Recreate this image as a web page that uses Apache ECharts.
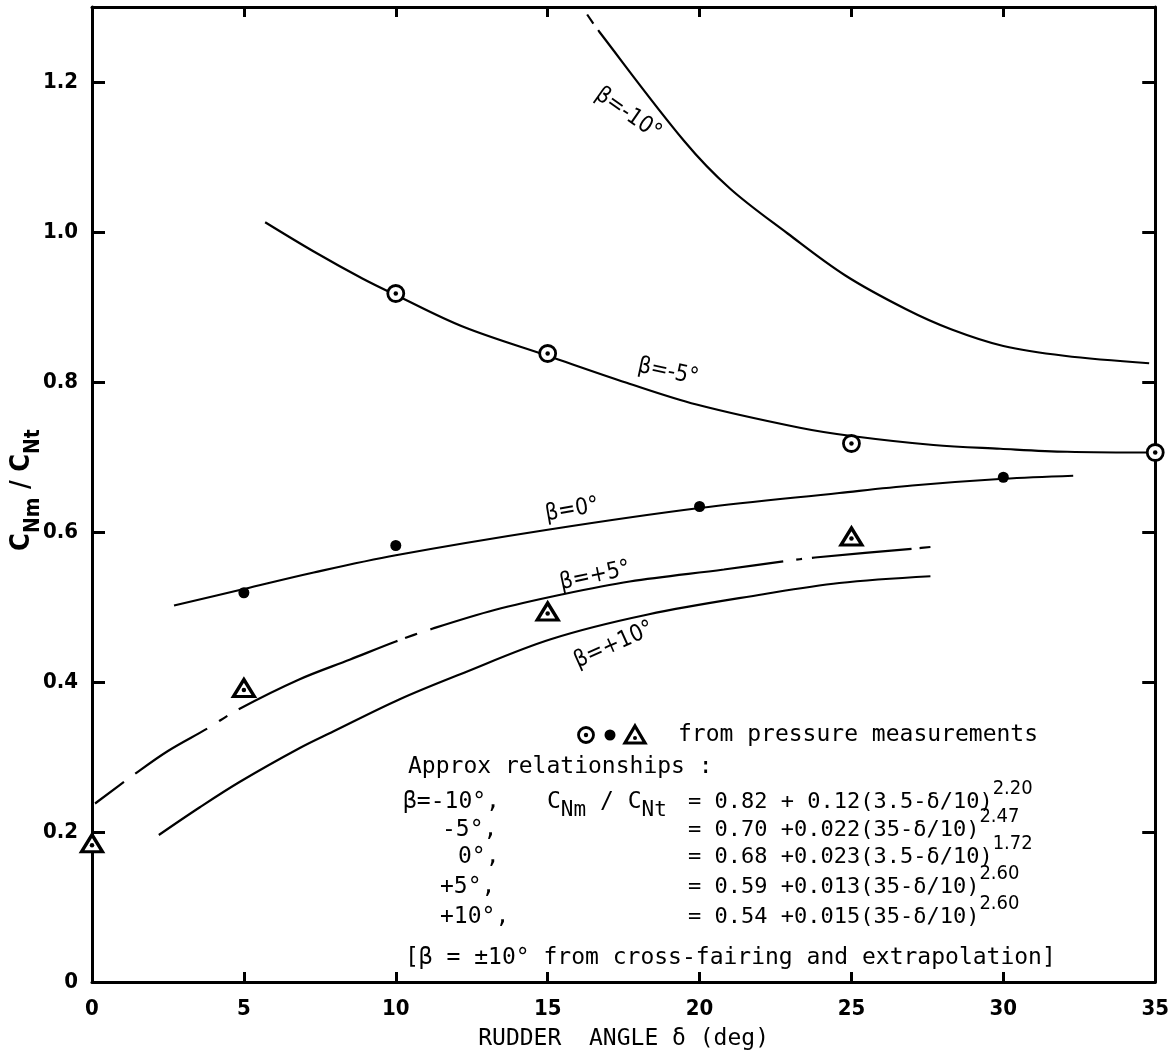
<!DOCTYPE html>
<html>
<head>
<meta charset="utf-8">
<script src="https://cdn.jsdelivr.net/npm/echarts@6/dist/echarts.min.js"></script>
<style>
html,body{margin:0;padding:0;background:#fff;}
#chart{width:1172px;height:1059px;}
</style>
</head>
<body>
<div id="chart"></div>
<script>
// ---- data ----
const xTickLabels = ['0','5','10','15','20','25','30','35'];
const yTickLabels = ['0','0.2','0.4','0.6','0.8','1.0','1.2'];

// beta = -10 deg (faired curve)
const deltaM10 = [16.3, 16.7, 19.5, 21.0, 22.9, 24.8, 26.8, 28.3, 30.0, 32.0, 34.8];
const cnM10    = [1.290, 1.267, 1.121, 1.058, 0.998, 0.942, 0.897, 0.870, 0.848, 0.835, 0.825];
// beta = -5 deg
const deltaM5 = [5.7, 7.3, 8.9, 10.0, 12.2, 15.0, 17.6, 19.9, 23.3, 25.0, 27.7, 29.9, 32.1, 35.0];
const cnM5    = [1.013, 0.974, 0.938, 0.916, 0.874, 0.835, 0.799, 0.770, 0.739, 0.728, 0.716, 0.711, 0.707, 0.706];
// beta = 0 deg
const delta0 = [2.7, 5.0, 7.3, 10.0, 15.0, 20.0, 24.6, 27.0, 30.0, 32.3];
const cn0    = [0.502, 0.524, 0.546, 0.569, 0.603, 0.632, 0.652, 0.662, 0.671, 0.675];
// beta = +5 deg
const deltaP5 = [0.1, 1.4, 2.5, 3.8, 4.8, 6.8, 8.5, 10.0, 11.2, 13.25, 15.5, 17.7, 20.8, 22.8, 23.8, 27.1, 27.6];
const cnP5    = [0.238, 0.277, 0.308, 0.338, 0.363, 0.403, 0.430, 0.454, 0.471, 0.496, 0.517, 0.534, 0.550, 0.561, 0.566, 0.578, 0.580];
// beta = +10 deg
const deltaP10 = [2.2, 3.55, 4.87, 6.84, 7.94, 10.13, 12.1, 15.1, 18.3, 22.1, 24.6, 27.6];
const cnP10    = [0.196, 0.233, 0.267, 0.312, 0.334, 0.377, 0.410, 0.457, 0.490, 0.517, 0.532, 0.541];

// measured points (pressure measurements)
const deltaCirc = [10, 15, 25, 35];          // circle with dot
const cnCirc    = [0.918, 0.838, 0.718, 0.706];
const deltaDot  = [5, 10, 20, 30];           // filled dot
const cnDot     = [0.519, 0.582, 0.634, 0.673];
const deltaTri  = [0, 5, 15, 25];            // triangle
const cnTri     = [0.185, 0.392, 0.494, 0.594];

// ---- build ----
const pairs = (xs, ys) => xs.map((x, i) => [x, ys[i]]);
const MONO = '"DejaVu Sans Mono", monospace';
const SANS = '"DejaVu Sans Condensed", "DejaVu Sans", sans-serif';

const chart = echarts.init(document.getElementById('chart'), null, {renderer: 'canvas'});

const curve = (name, xs, ys, dash) => ({
  name, type: 'line', xAxisIndex: 0, yAxisIndex: 0,
  data: pairs(xs, ys), smooth: 0.35, showSymbol: false, symbol: 'none',
  lineStyle: {color: '#000', width: 2.2, type: dash || 'solid', opacity: 1},
  silent: true, z: 2
});

const axisCommon = {
  axisLine: {show: true, onZero: false, lineStyle: {color: '#000', width: 3}},
  splitLine: {show: false},
};

const yFmt = v => {
  const i = Math.round(v / 0.2);
  return Math.abs(v - i * 0.2) < 1e-6 ? (yTickLabels[i] || '') : '';
};
const xFmt = v => {
  const i = Math.round(v / 5);
  return Math.abs(v - i * 5) < 1e-6 ? (xTickLabels[i] || '') : '';
};

const option = {
  animation: false,
  backgroundColor: '#fff',
  grid: {left: 92, right: 15, top: 7, bottom: 77, containLabel: false},
  xAxis: [
    Object.assign({
      type: 'value', min: 0, max: 35, interval: 5, position: 'bottom',
      name: 'RUDDER  ANGLE δ (deg)', nameLocation: 'middle', nameGap: 46,
      nameTextStyle: {fontFamily: MONO, fontSize: 23, color: '#000'},
      axisTick: {show: true, inside: true, length: 10, lineStyle: {color: '#000', width: 3}},
      axisLabel: {show: true, margin: 16, fontFamily: SANS, fontSize: 22, fontWeight: 'bold', color: '#000', formatter: xFmt}
    }, axisCommon),
    Object.assign({
      type: 'value', min: 0, max: 35, interval: 5, position: 'top',
      axisTick: {show: true, inside: true, length: 10, lineStyle: {color: '#000', width: 3}},
      axisLabel: {show: false}
    }, axisCommon)
  ],
  yAxis: [
    Object.assign({
      type: 'value', min: 0, max: 1.3, interval: 0.2, position: 'left',
      axisTick: {show: true, inside: true, length: 13, lineStyle: {color: '#000', width: 3}},
      axisLabel: {show: true, margin: 14, fontFamily: SANS, fontSize: 22, fontWeight: 'bold', color: '#000', formatter: yFmt, showMaxLabel: false}
    }, axisCommon),
    Object.assign({
      type: 'value', min: 0, max: 1.3, interval: 0.2, position: 'right',
      axisTick: {show: true, inside: true, length: 13, lineStyle: {color: '#000', width: 3}},
      axisLabel: {show: false}
    }, axisCommon)
  ],
  series: [
    curve('β=-10°', deltaM10, cnM10, [11, 8, 3000]),
    curve('β=-5°', deltaM5, cnM5),
    curve('β=0°', delta0, cn0),
    curve('β=+5°', deltaP5, cnP5, [36, 14, 85, 14, 10, 13, 173, 8, 13, 14, 360, 13, 6, 10, 100, 8, 12, 60]),
    curve('β=+10°', deltaP10, cnP10),
    {
      name: 'circles', type: 'scatter', data: pairs(deltaCirc, cnCirc), clip: false,
      symbol: 'circle', symbolSize: 16,
      itemStyle: {color: '#fff', borderColor: '#000', borderWidth: 2.8, opacity: 1}, z: 5, silent: true
    },
    {
      name: 'circle dots', type: 'scatter', data: pairs(deltaCirc, cnCirc), clip: false,
      symbol: 'circle', symbolSize: 4.5, itemStyle: {color: '#000', opacity: 1}, z: 6, silent: true
    },
    {
      name: 'dots', type: 'scatter', data: pairs(deltaDot, cnDot), clip: false,
      symbol: 'circle', symbolSize: 11, itemStyle: {color: '#000', opacity: 1}, z: 5, silent: true
    },
    {
      name: 'triangles', type: 'scatter', data: pairs(deltaTri, cnTri), clip: false,
      symbol: 'triangle', symbolSize: [21, 17],
      itemStyle: {color: '#fff', borderColor: '#000', borderWidth: 3.2, opacity: 1}, z: 5, silent: true
    },
    {
      name: 'triangle dots', type: 'scatter', data: pairs(deltaTri, cnTri), clip: false,
      symbol: 'circle', symbolSize: 4.5, symbolOffset: [0, 2], itemStyle: {color: '#000', opacity: 1}, z: 6, silent: true
    }
  ],
  graphic: []
};

// ---- text annotations ----
const g = option.graphic;
const txt = (x, y, text) => g.push({
  type: 'text', x, y, silent: true, z: 20,
  style: {text, fontFamily: MONO, fontSize: 23, fill: '#000', align: 'left', verticalAlign: 'middle'}
});

// y axis title C_Nm / C_Nt
g.push({
  type: 'text', x: 26, y: 490, rotation: Math.PI / 2, silent: true, z: 20,
  style: {
    text: '{c|C}{s|Nm}{c| / C}{s|Nt}',
    align: 'center', verticalAlign: 'middle', fill: '#000',
    rich: {
      c: {fontFamily: SANS, fontSize: 27, fontWeight: 'bold', lineHeight: 36, verticalAlign: 'top', fill: '#000'},
      s: {fontFamily: SANS, fontSize: 21, fontWeight: 'bold', lineHeight: 36, verticalAlign: 'bottom', fill: '#000'}
    }
  }
});

// curve labels
const lab = (x, y, text, deg) => g.push({
  type: 'text', x, y, rotation: deg * Math.PI / 180, silent: true, z: 20,
  style: {text, fontFamily: SANS, fontSize: 23, fill: '#000', align: 'center', verticalAlign: 'middle'}
});
lab(628, 114, 'β=-10°', -35);
lab(668, 372, 'β=-5°', -12);
lab(572, 510, 'β=0°', 10);
lab(595, 576, 'β=+5°', 12);
lab(614, 645, 'β=+10°', 24);

// legend glyphs
g.push({type: 'circle', shape: {cx: 586, cy: 735, r: 7.5}, style: {fill: '#fff', stroke: '#000', lineWidth: 2.8}, z: 20, silent: true});
g.push({type: 'circle', shape: {cx: 586, cy: 735, r: 2.2}, style: {fill: '#000'}, z: 21, silent: true});
g.push({type: 'circle', shape: {cx: 610, cy: 735, r: 5.5}, style: {fill: '#000'}, z: 20, silent: true});
g.push({type: 'polygon', shape: {points: [[635, 726], [645, 743], [625, 743]]}, style: {fill: '#fff', stroke: '#000', lineWidth: 3.2}, z: 20, silent: true});
g.push({type: 'circle', shape: {cx: 635, cy: 738, r: 2}, style: {fill: '#000'}, z: 21, silent: true});

txt(678, 735, 'from pressure measurements');
txt(408, 767, 'Approx relationships :');

const eqRich = {
  t: {fontFamily: MONO, fontSize: 22, lineHeight: 34, verticalAlign: 'bottom', fill: '#000'},
  p: {fontFamily: SANS, fontSize: 20, lineHeight: 34, verticalAlign: 'top', fill: '#000'}
};
const eq = (y, left, leftX, body, pow) => {
  txt(leftX, y, left);
  g.push({
    type: 'text', x: 688, y: y - 6, silent: true, z: 20,
    style: {text: '{t|' + body + '}{p|' + pow + '}', align: 'left', verticalAlign: 'middle', rich: eqRich}
  });
};
eq(802, 'β=-10°,', 403, '= 0.82 + 0.12(3.5-δ/10)', '2.20');
eq(830, '-5°,', 442, '= 0.70 +0.022(35-δ/10)', '2.47');
eq(857, '0°,', 458, '= 0.68 +0.023(3.5-δ/10)', '1.72');
eq(887, '+5°,', 440, '= 0.59 +0.013(35-δ/10)', '2.60');
eq(917, '+10°,', 440, '= 0.54 +0.015(35-δ/10)', '2.60');

// C_Nm / C_Nt in the first relationship line
g.push({
  type: 'text', x: 547, y: 806, silent: true, z: 20,
  style: {
    text: '{c|C}{s|Nm}{c| / C}{s|Nt}', align: 'left', verticalAlign: 'middle',
    rich: {
      c: {fontFamily: MONO, fontSize: 23, lineHeight: 30, verticalAlign: 'top', fill: '#000'},
      s: {fontFamily: MONO, fontSize: 21, lineHeight: 30, verticalAlign: 'bottom', fill: '#000'}
    }
  }
});

txt(405, 958, '[β = ±10° from cross-fairing and extrapolation]');

chart.setOption(option);
</script>
</body>
</html>
